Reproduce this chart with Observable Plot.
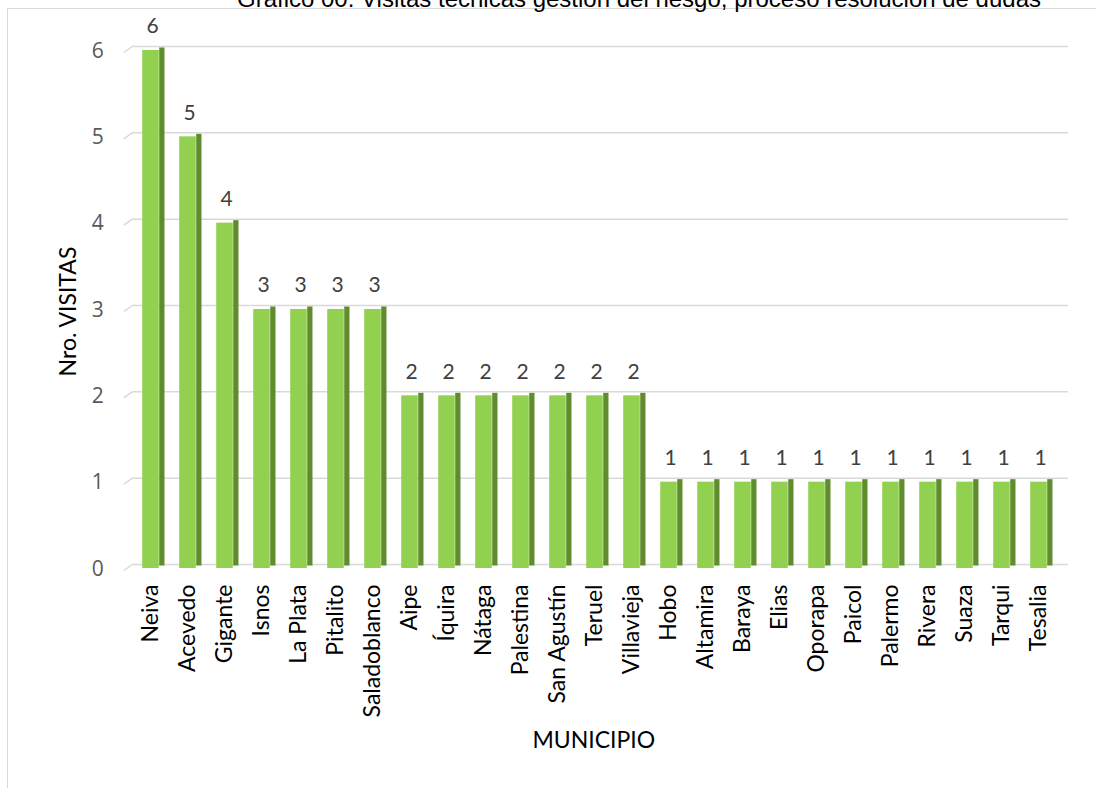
<!DOCTYPE html>
<html>
<head>
<meta charset="utf-8">
<script src="https://cdn.jsdelivr.net/npm/d3@7"></script>
<script src="https://cdn.jsdelivr.net/npm/@observablehq/plot@0.6"></script>
<style>
  html, body { margin: 0; padding: 0; background: #fff; overflow: hidden; }
  #wrap { position: relative; width: 1096px; height: 788px; overflow: hidden; }
  #frame { position: absolute; left: 6.5px; top: 8px; width: 1200px; height: 900px; border: 1.5px solid #d9d9d9; box-sizing: border-box; }
  #title { position: absolute; left: 0; width: 1278px; top: -12px; line-height: 22px; text-align: center;
           font-family: "Liberation Sans", Arial, sans-serif; font-size: 24px; color: #000; white-space: nowrap; }
  #chart { position: absolute; left: 0; top: 0; }
</style>
</head>
<body>
<div id="wrap">
  <div id="frame"></div>
  <div id="title">Gráfico 00. Visitas técnicas gestión del riesgo, proceso resolución de dudas</div>
  <div id="chart"></div>
</div>
<script>
const municipios = ["Neiva","Acevedo","Gigante","Isnos","La Plata","Pitalito","Saladoblanco","Aipe","Íquira","Nátaga","Palestina","San Agustín","Teruel","Villavieja","Hobo","Altamira","Baraya","Elias","Oporapa","Paicol","Palermo","Rivera","Suaza","Tarqui","Tesalia"];
const visitas = [6,5,4,3,3,3,3,2,2,2,2,2,2,2,1,1,1,1,1,1,1,1,1,1,1];
const yTicks = [0,1,2,3,4,5,6];
const yLabel = "Nro. VISITAS";
const xLabel = "MUNICIPIO";

const data = municipios.map((m, i) => ({municipio: m, visitas: visitas[i]}));

const W = 1096, H = 788;
const mL = 126.3, mR = 33.8, mT = 46, mB = 224;
const step = (W - mL - mR) / municipios.length;
const front = 17, side = 5.7;
const inset = (step - front) / 2;

// gridline "floor" slant at the left end of each gridline (3D effect), positioned via the y scale
const slants = (index, scales, values, dims) => {
  const g = d3.create("svg:g").attr("stroke", "#d9d9d9").attr("stroke-width", 1.5);
  for (const v of yTicks) {
    const yy = scales.y(v);
    g.append("line")
      .attr("x1", dims.marginLeft - 2.5).attr("y1", yy + 6.5)
      .attr("x2", dims.marginLeft + 6.7).attr("y2", yy);
  }
  return g.node();
};

const chart = Plot.plot({
  width: W,
  height: H,
  marginLeft: mL,
  marginRight: mR,
  marginTop: mT,
  marginBottom: mB,
  style: {background: "transparent", overflow: "visible"},
  x: {domain: municipios, padding: 0, label: null},
  y: {domain: [0, 6], ticks: yTicks, label: null},
  marks: [
    Plot.ruleY(yTicks, {stroke: "#d9d9d9", strokeWidth: 1.5, insetLeft: 6.7, insetRight: -5.8}),
    slants,
    Plot.barY(data, {x: "municipio", y: "visitas", fill: "#5f8c2c", insetLeft: inset + front, insetRight: inset - side, dy: 1.5}),
    Plot.barY(data, {x: "municipio", y: "visitas", fill: "#92d050", insetLeft: inset, insetRight: inset, dy: 4}),
    Plot.text(data, {x: "municipio", y: "visitas", text: d => String(d.visitas), dx: 1.5, dy: -20, fill: "#404040",
      fontSize: 21, fontFamily: "Lato, sans-serif"}),
    Plot.axisY({ticks: yTicks, tickFormat: "d", tickSize: 0, tickPadding: 23, dy: 4.5, fontSize: 21,
      fontFamily: "'Open Sans', sans-serif", color: "#595959", label: null}),
    Plot.axisX({tickSize: 0, tickPadding: 20, tickRotate: -90, fontSize: 23, fontFamily: "Lato, sans-serif",
      color: "#000", label: null}),
    Plot.text([yLabel], {text: d => d, frameAnchor: "left", textAnchor: "middle", rotate: -90, dx: -57.8, dy: 6,
      fontSize: 23, fontFamily: "Lato, sans-serif", fill: "#000"}),
    Plot.text([xLabel], {text: d => d, frameAnchor: "bottom", dx: -1, dy: 183,
      fontSize: 23, fontFamily: "Lato, sans-serif", fill: "#000"})
  ]
});
document.getElementById("chart").appendChild(chart);
</script>
</body>
</html>
